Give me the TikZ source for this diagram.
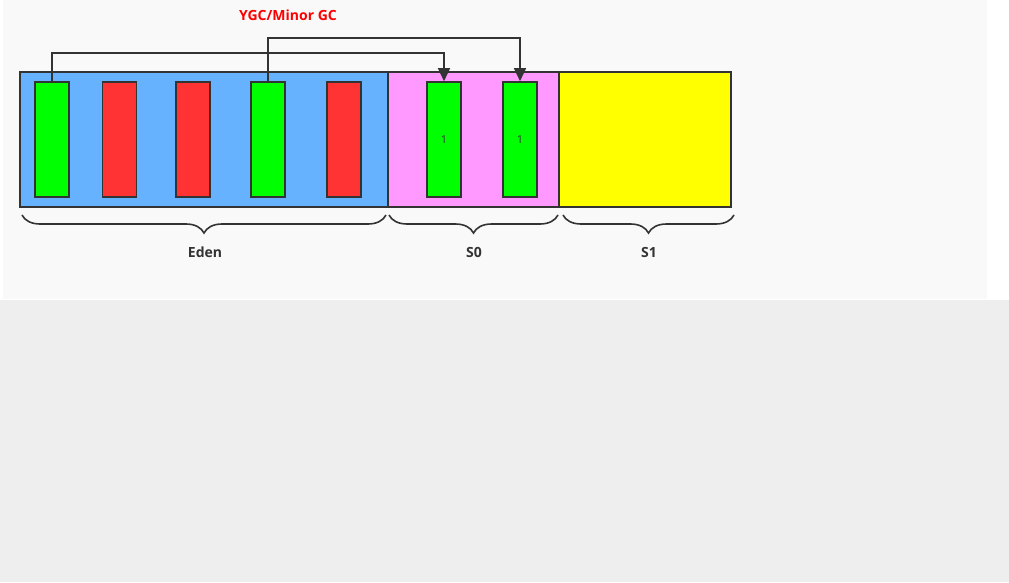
\documentclass[tikz,border=0pt]{standalone}
\usepackage{fontspec}
\setmainfont{Open Sans}
\usetikzlibrary{arrows.meta,decorations.pathreplacing}
\definecolor{panel}{HTML}{F9F9F9}
\definecolor{outer}{HTML}{EEEEEE}
\definecolor{edenblue}{HTML}{66B2FF}
\definecolor{szpink}{HTML}{FF99FF}
\definecolor{soyellow}{HTML}{FFFF00}
\definecolor{livegreen}{HTML}{00FF00}
\definecolor{deadred}{HTML}{FF3333}
\definecolor{ink}{HTML}{333333}
\tikzset{
  region/.style={draw=ink, line width=1.6pt, minimum height=135pt, inner sep=0pt},
  obj/.style={draw=ink, line width=1.6pt, minimum width=34pt, minimum height=115pt, inner sep=0pt, font=\fontsize{11}{11}\selectfont, text=ink},
  live/.style={obj, fill=livegreen},
  dead/.style={obj, fill=deadred},
  gcarrow/.style={draw=ink, line width=1.6pt, -{Triangle[width=12pt,length=13pt]}},
  bracestyle/.style={draw=ink, line width=1.6pt, decorate, decoration={brace, mirror, amplitude=18pt}},
  lbl/.style={font=\bfseries\fontsize{14}{14}\selectfont, text=ink}
}
\begin{document}
\begin{tikzpicture}[x=1pt,y=-1pt]
\useasboundingbox (0,0) rectangle (1009,582);
\fill[outer] (0,0) rectangle (1009,582);
\fill[white] (0,0) rectangle (1009,300);
\fill[panel] (3,0) rectangle (987,299);

\node[region, fill=edenblue, minimum width=368pt] (eden) at (204,139.5) {};
\node[region, fill=szpink, minimum width=171pt] (s0) at (473.5,139.5) {};
\node[region, fill=soyellow, minimum width=172pt] (s1) at (645,139.5) {};

\node[live] (g1) at (52,139.5) {};
\node[dead] (r1) at (119.5,139.5) {};
\node[dead] (r2) at (193,139.5) {};
\node[live] (g2) at (268,139.5) {};
\node[dead] (r3) at (344,139.5) {};
\node[live] (c1) at (444,139.5) {1};
\node[live] (c2) at (520,139.5) {1};

\node[font=\bfseries\fontsize{14}{14}\selectfont, text=red] (title) at (288,15) {YGC/Minor GC};

\draw[gcarrow] (g1.north) -- ++(0,-28) -| (c1.north);
\draw[gcarrow] (g2.north) -- ++(0,-43) -| (c2.north);

\coordinate (eb1) at (22,215);
\coordinate (eb2) at (386,215);
\coordinate (sb1) at (389,215);
\coordinate (sb2) at (558,215);
\coordinate (tb1) at (563,215);
\coordinate (tb2) at (734,215);
\draw[bracestyle] (eb1) -- (eb2);
\draw[bracestyle] (sb1) -- (sb2);
\draw[bracestyle] (tb1) -- (tb2);

\node[lbl] (edenlbl) at (205,252) {Eden};
\node[lbl] (s0lbl) at (474,252) {S0};
\node[lbl] (s1lbl) at (649,252) {S1};
\end{tikzpicture}
\end{document}
